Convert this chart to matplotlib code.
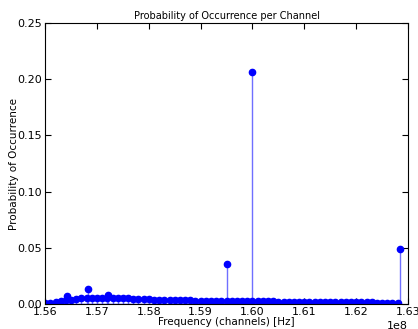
import numpy as np
import matplotlib
matplotlib.use("Agg")
import matplotlib.pyplot as plt

# channel grid (MHz) and the background occupancy
grid_mhz = np.arange(156.0, 162.85, 0.1)
base_prob = [0.0005, 0.001, 0.0015, 0.003, 0.004, 0.004, 0.0045, 0.005, 0.005, 0.005,
             0.005, 0.0055, 0.0055, 0.0055, 0.005, 0.005, 0.005, 0.0048, 0.0045, 0.0045,
             0.0042, 0.004, 0.004, 0.0038, 0.0036, 0.0035, 0.0034, 0.0033, 0.0032, 0.003,
             0.003, 0.003, 0.0029, 0.0028, 0.0028, 0.0027, 0.0026, 0.0026, 0.0025, 0.0025,
             0.0025, 0.0024, 0.0024, 0.0023, 0.0023, 0.0022, 0.0022, 0.0021, 0.0021, 0.002,
             0.002, 0.002, 0.0019, 0.0019, 0.0018, 0.0018, 0.0017, 0.0017, 0.0016, 0.0016,
             0.0015, 0.0015, 0.0014, 0.0014, 0.0013, 0.0013, 0.0012, 0.0012, 0.0011]

# busy channels
spike_mhz = [156.42, 156.82, 157.21, 159.50, 159.99, 162.85]
spike_prob = [0.007, 0.013, 0.008, 0.036, 0.206, 0.049]

freqs = np.concatenate([grid_mhz[:len(base_prob)], spike_mhz]) * 1e6
probs = np.concatenate([base_prob, spike_prob])

fig = plt.figure(figsize=(4.18, 3.29), dpi=100)
ax = fig.add_axes([0.108, 0.076, 0.868, 0.854])

ml, sl, bl = ax.stem(freqs, probs, linefmt="b-", markerfmt="bo", basefmt="b-")
plt.setp(ml, markersize=4.5, color="blue")
plt.setp(sl, linewidth=1.0, color="#6f6fff")
plt.setp(bl, linewidth=1.0, color="blue")

ax.set_xlim(1.56e8, 1.63e8)
ax.set_ylim(0, 0.25)
ax.set_xticks(np.arange(1.56e8, 1.6301e8, 0.01e8))
ax.set_yticks(np.arange(0, 0.2501, 0.05))
ax.tick_params(direction="in", top=True, right=True, labelsize=8, length=4, pad=2)
ax.ticklabel_format(axis="x", style="sci", scilimits=(8, 8))
ax.xaxis.get_offset_text().set_fontsize(8)

ax.set_title("Probability of Occurrence per Channel", fontsize=7, pad=3)
ax.set_xlabel("Frequency (channels) [Hz]", fontsize=7.5, labelpad=0)
ax.set_ylabel("Probability of Occurrence", fontsize=7.5, labelpad=-1)

fig.savefig("out.png", dpi=100)
